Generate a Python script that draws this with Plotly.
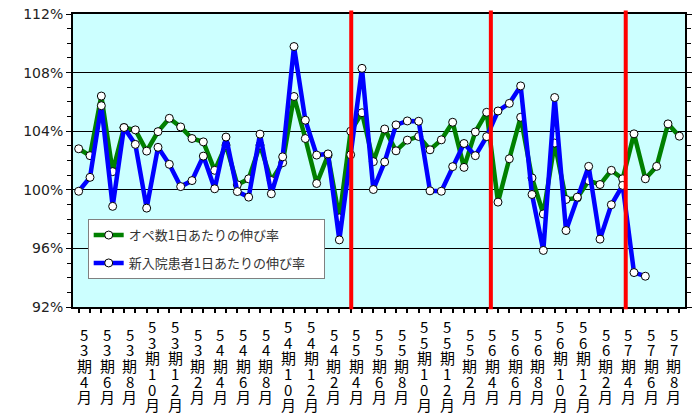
import plotly.graph_objects as go

# Monthly growth rates (%), one value per month from 53期4月 to 57期9月
ope_rate = [102.8, 102.33, 106.4, 101.24, 104.25, 104.09, 102.64, 103.97, 104.88, 104.29,
            103.5, 103.27, 101.33, 103.05, 100.34, 100.75, 103.05, 100.63, 101.85, 106.37,
            103.5, 100.43, 102.35, 98.08, 104.0, 105.26, 101.92, 104.15, 102.66, 103.39,
            103.64, 102.73, 103.41, 104.61, 101.53, 103.95, 105.29, 99.16, 102.12, 104.95,
            100.81, 98.35, 103.19, 99.34, 99.45, 100.63, 100.36, 101.33, 100.75, 103.82,
            100.75, 101.6, 104.5, 103.66]
inpatient_rate = [99.9, 100.85, 105.74, 98.87, 104.25, 103.1, 98.75, 102.9, 101.74, 100.22,
                  100.63, 102.3, 100.07, 103.6, 99.88, 99.5, 103.8, 99.73, 102.25, 109.78,
                  104.75, 102.37, 102.45, 96.58, 102.39, 108.29, 100.02, 101.9, 104.43, 104.7,
                  104.68, 99.93, 99.9, 101.58, 103.16, 102.33, 103.63, 105.38, 105.9, 107.09,
                  99.68, 95.86, 106.3, 97.22, 99.5, 101.6, 96.63, 98.98, 100.3, 94.35,
                  94.1, None, None, None]

# Labels shown every two months
tick_labels = ["53期4月", "53期6月", "53期8月", "53期10月", "53期12月", "53期2月",
               "54期4月", "54期6月", "54期8月", "54期10月", "54期12月", "54期2月",
               "55期4月", "55期6月", "55期8月", "55期10月", "55期12月", "55期2月",
               "56期4月", "56期6月", "56期8月", "56期10月", "56期12月", "56期2月",
               "57期4月", "57期6月", "57期8月"]

# Start of each new 期 (marked with red lines)
period_starts = [24.05, 36.37, 48.27]

x = list(range(len(ope_rate)))

fig = go.Figure()

marker_style = dict(symbol="circle", size=8, color="white", line=dict(color="black", width=1))

fig.add_trace(go.Scatter(
    x=x, y=ope_rate, mode="lines+markers",
    name="オペ数1日あたりの伸び率",
    line=dict(color="#008000", width=4.5),
    marker=marker_style, legendgroup="a", legendrank=1,
))
fig.add_trace(go.Scatter(
    x=x, y=inpatient_rate, mode="lines+markers",
    name="新入院患者1日あたりの伸び率　",
    line=dict(color="#0000FF", width=4.5),
    marker=marker_style, legendgroup="b", legendrank=2,
))

# Red vertical lines at the start of each period
for xs in period_starts:
    fig.add_shape(type="line", xref="x", yref="paper", x0=xs, x1=xs, y0=-0.008, y1=1.012,
                  line=dict(color="#FF0000", width=4), layer="above")

# Vertical (stacked) category labels: one character per row, block centred vertically
row_step = 15.7
for k, lab in enumerate(tick_labels):
    n = len(lab)
    for j, ch in enumerate(lab):
        fig.add_annotation(x=2 * k + 0.5, y=-0.2, xref="x", yref="paper", text=ch,
                           showarrow=False, xanchor="center", yanchor="middle",
                           yshift=-(j - (n - 1) / 2) * row_step,
                           font=dict(family="Noto Sans CJK JP", size=15, color="black"))

fig.update_layout(
    width=698, height=414,
    margin=dict(l=73, r=6, t=13, b=107),
    paper_bgcolor="white",
    plot_bgcolor="#CCFFFF",
    font=dict(family="DejaVu Sans", size=14, color="#222222"),
    showlegend=True,
    legend=dict(
        x=0.024, y=0.30, xanchor="left", yanchor="top",
        bgcolor="white", bordercolor="#808080", borderwidth=1,
        font=dict(family="Noto Sans CJK JP", size=13, color="#333333"),
        tracegroupgap=8, traceorder="grouped",
    ),
)

fig.update_xaxes(
    range=[-0.5, 53.5],
    tickvals=x, ticktext=[""] * len(x),
    ticks="outside", ticklen=4, tickwidth=1.5, tickcolor="black",
    showgrid=False, zeroline=False,
    showline=True, linecolor="black", linewidth=2, mirror=True,
)
fig.update_yaxes(
    range=[92, 112], dtick=4, tick0=92, ticksuffix="%",
    ticks="outside", ticklen=5, tickwidth=1, tickcolor="black",
    minor=dict(dtick=1, ticks="outside", ticklen=4, tickcolor="black", showgrid=False),
    showgrid=True, gridcolor="black", gridwidth=1,
    zeroline=False,
    showline=True, linecolor="black", linewidth=2, mirror="ticks",
)

# The page body has a default 8px margin; remove it so the chart fills the window
fig.write_html("out.html", config={"displayModeBar": False},
               post_script="document.body.style.margin='0';")
